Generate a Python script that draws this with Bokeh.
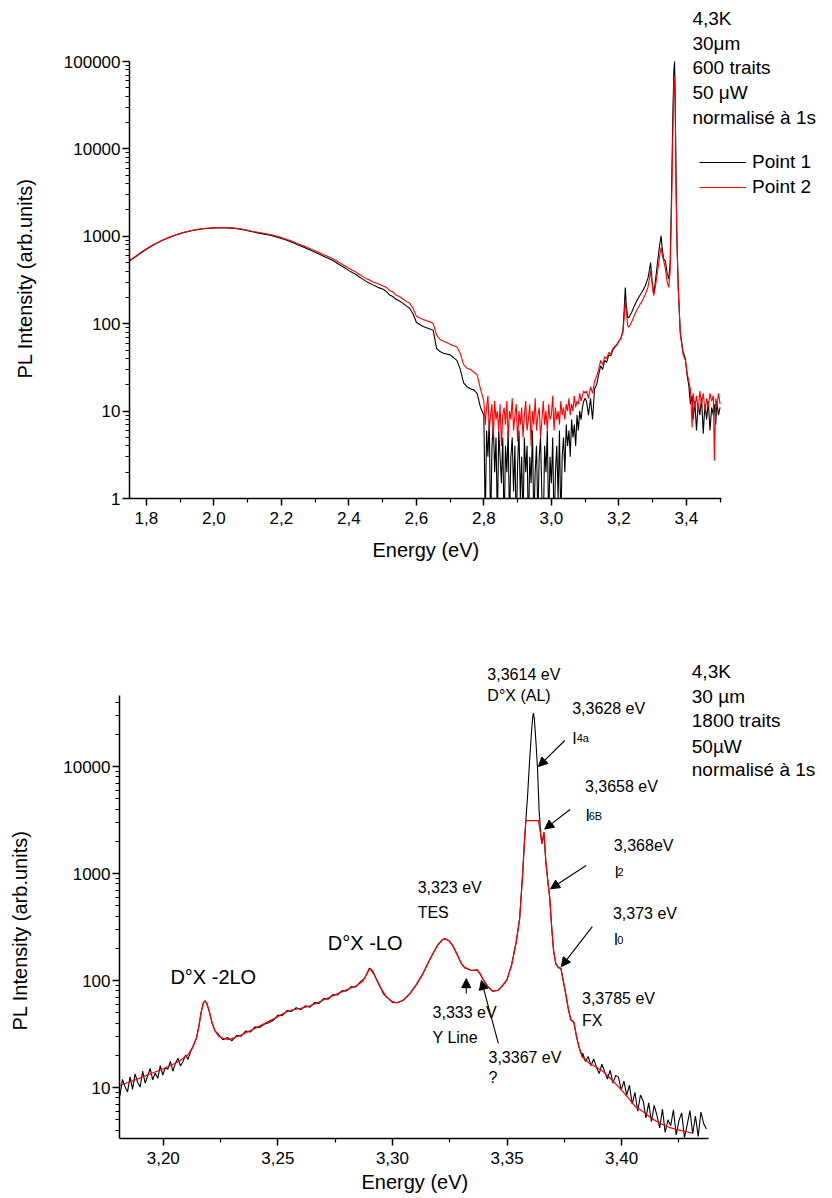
import numpy as np
from bokeh.plotting import figure
from bokeh.models import (FixedTicker, CustomJSTickFormatter, Label, Legend, LegendItem,
                          Arrow, NormalHead, Range1d, Title)
from bokeh.embed import file_html
from bokeh.resources import INLINE

FONT = "Liberation Sans"

# ------------------------------------------------------------------ top chart data
top_energy_smooth = [1.75, 1.77, 1.79, 1.81, 1.83, 1.85, 1.87, 1.89, 1.91, 1.93, 1.95, 1.97, 1.99,
                     2.01, 2.03, 2.05, 2.07, 2.09, 2.11, 2.13, 2.15, 2.17, 2.19, 2.21, 2.23, 2.25,
                     2.27, 2.29, 2.31, 2.33, 2.35, 2.37, 2.39,
                     2.40, 2.41, 2.42, 2.43, 2.44, 2.45, 2.46, 2.47, 2.48, 2.49, 2.50, 2.51, 2.52,
                     2.53, 2.54, 2.55, 2.56, 2.57, 2.58, 2.59, 2.60, 2.61, 2.62, 2.63, 2.64, 2.65,
                     2.66, 2.67, 2.68, 2.69, 2.70, 2.71, 2.72, 2.73, 2.74, 2.75, 2.76, 2.77, 2.78, 2.79]
point2_smooth = [530, 600, 680, 760, 840, 915, 985, 1050, 1110, 1160, 1200, 1228, 1248, 1260, 1262,
                 1252, 1232, 1195, 1150, 1112, 1078, 1040, 992, 940, 882, 818, 762, 705, 655, 605,
                 562, 505, 455,
                 430, 410, 392, 368, 350, 330, 318, 302, 292, 283, 272, 262, 240, 232, 212, 205,
                 192, 180, 172, 150, 122, 116, 112, 108, 105, 100, 74, 66, 63, 61, 58, 56, 54, 46,
                 34, 31, 30, 28, 26, 18]
point1_smooth = [520, 590, 670, 750, 830, 905, 975, 1040, 1100, 1150, 1190, 1218, 1238, 1250, 1252,
                 1240, 1220, 1180, 1135, 1095, 1060, 1022, 972, 918, 860, 795, 738, 682, 630, 580,
                 535, 480, 432,
                 405, 385, 368, 345, 326, 307, 293, 280, 268, 257, 249, 236, 215, 205, 190, 182,
                 172, 160, 150, 130, 104, 98, 93, 90, 87, 84, 52, 48, 46, 45, 44, 41, 38, 30, 21,
                 19, 18, 17.5, 16, 11]

# noisy minimum, 2.80 - 3.10 eV
point2_noise = [13, 7, 11, 15, 6, 9, 12, 5, 13, 8, 10, 6, 12, 4, 9, 11, 7, 13, 5, 10, 8, 14, 6, 9,
                12, 4.5, 10, 7, 11, 5, 9, 13, 6, 8, 12, 4, 10, 7, 14, 6, 9, 11, 5, 8, 13, 7, 10, 6,
                12, 8, 9, 15, 6, 11, 8, 10, 7, 13, 9, 11, 8, 12, 10, 14, 9, 12, 10, 15, 11, 13, 12,
                16, 13, 15, 17, 16]
point1_noise = [9, 0.5, 6, 3, 8, 0.4, 4, 7, 2, 5, 0.5, 6, 3, 1.5, 5, 0.4, 4, 2, 6, 0.5, 3, 5, 1.2,
                4, 0.4, 2.5, 6, 1, 3, 0.5, 5, 2, 4, 0.4, 3, 1.5, 6, 0.5, 2, 4, 0.6, 3, 5, 1, 0.4, 4,
                2, 6, 0.5, 3, 1.5, 5, 0.4, 2, 4, 1, 6, 0.5, 3, 5, 2, 7, 4, 6, 3, 8, 5, 7, 4, 9, 6,
                10, 8, 11, 13, 14]

top_energy_tail = [3.104, 3.110, 3.116, 3.122, 3.128, 3.134, 3.140, 3.146, 3.152, 3.158, 3.164,
                   3.170, 3.176, 3.182, 3.188, 3.194, 3.200, 3.206, 3.212, 3.216, 3.219, 3.222,
                   3.226, 3.230, 3.238, 3.246, 3.254, 3.262, 3.270, 3.278, 3.286, 3.291, 3.294,
                   3.298, 3.303, 3.308, 3.314, 3.320, 3.325, 3.329, 3.333, 3.338, 3.343, 3.348,
                   3.352, 3.356, 3.360, 3.363, 3.365, 3.367, 3.369, 3.372, 3.376, 3.382, 3.390,
                   3.397, 3.402, 3.407, 3.412, 3.417, 3.420, 3.425, 3.430, 3.435, 3.440, 3.445,
                   3.450, 3.455, 3.460, 3.465, 3.470, 3.475, 3.480, 3.483, 3.487, 3.490, 3.495, 3.500]
point2_tail = [17, 14, 19, 16, 22, 25, 30, 38, 34, 42,
               40, 47, 45, 52, 55, 58, 63, 68, 80, 120,
               183, 140, 95, 91, 105, 125, 145, 165, 185, 215,
               260, 330, 403, 300, 210, 260, 380, 560, 745, 600,
               520, 420, 300, 260, 400, 2000, 15000, 55000, 68000, 30000,
               5000, 888, 250, 77, 45, 38, 28, 22, 18, 6.5,
               16, 11, 15, 10, 17, 12, 16, 10, 14, 11,
               16, 13, 15, 2.7, 14, 11, 16, 12]
point1_tail = [13, 9, 14, 8, 18, 20, 26, 33, 30, 38,
               36, 44, 43, 50, 54, 57, 63, 68, 82, 150,
               260, 160, 118, 118, 135, 160, 185, 210, 235, 270,
               330, 420, 502, 320, 218, 300, 480, 750, 1013, 700,
               549, 520, 380, 324, 500, 3000, 25000, 80000, 100000, 40000,
               6000, 900, 260, 80, 48, 40, 26, 20, 12, 15,
               8, 13, 6, 12, 9, 14, 5.5, 12, 8, 13,
               6, 11, 9, 12, 7, 13, 9, 11]

top_x_ticks = [1.8, 2.0, 2.2, 2.4, 2.6, 2.8, 3.0, 3.2, 3.4]
top_x_minor = [1.9, 2.1, 2.3, 2.5, 2.7, 2.9, 3.1, 3.3, 3.5]
top_y_ticks = [1, 10, 100, 1000, 10000, 100000]
top_info = ["4,3K", "30μm", "600 traits", "50 μW", "normalisé à 1s"]
legend_labels = ["Point 1", "Point 2"]

# ------------------------------------------------------------------ bottom chart data
bottom_energy = [3.1800, 3.1850, 3.1900, 3.1950, 3.2000, 3.2050, 3.2080, 3.2110, 3.2130, 3.2145,
                 3.2155, 3.2165, 3.2175, 3.2182, 3.2190, 3.2200, 3.2212, 3.2225, 3.2240, 3.2260,
                 3.2285, 3.2310, 3.2340, 3.2380, 3.2420, 3.2460, 3.2500, 3.2530, 3.2560, 3.2600,
                 3.2640, 3.2680, 3.2720, 3.2760, 3.2800, 3.2840, 3.2870, 3.2885, 3.2897, 3.2905,
                 3.2915, 3.2930, 3.2950, 3.2975, 3.3000, 3.3020, 3.3045, 3.3075, 3.3105, 3.3133,
                 3.3155, 3.3176, 3.3200, 3.3220, 3.3230, 3.3245, 3.3263, 3.3285, 3.3300, 3.3315,
                 3.3330, 3.3345, 3.3358, 3.3370, 3.3382, 3.3395, 3.3415, 3.3437, 3.3460, 3.3480,
                 3.3500, 3.3520, 3.3540, 3.3555, 3.3568, 3.3576, 3.3582, 3.3637, 3.3646, 3.3652,
                 3.3657, 3.3661, 3.3669, 3.3678, 3.3686, 3.3694, 3.3703, 3.3713, 3.3724, 3.3735,
                 3.3745, 3.3756, 3.3767, 3.3778, 3.3792, 3.3803, 3.3814, 3.3829, 3.3860, 3.3890,
                 3.3916, 3.3950, 3.3988, 3.4025, 3.4061, 3.4100, 3.4133, 3.4170, 3.4206, 3.4250,
                 3.4293, 3.4306]
bottom_red = [10.3, 11.2, 12.3, 13.6, 15.0, 16.8, 18.3, 20.5, 24.0, 29.0,
              37.0, 50.0, 62.0, 64.5, 61.0, 52.0, 41.0, 34.0, 30.5, 28.8,
              28.0, 29.2, 31.0, 34.0, 37.5, 41.5, 46.0, 50.0, 53.0, 55.0,
              58.0, 63.0, 69.0, 75.0, 82.0, 89.0, 98.0, 112.0, 125.0, 129.0,
              122.0, 102.0, 84.0, 70.0, 63.5, 62.0, 65.0, 75.0, 92.0, 116.0,
              145.0, 178.0, 218.0, 242.0, 245.0, 237.0, 212.0, 170.0, 145.0, 132.0,
              128.0, 124.0, 125.0, 126.0, 116.0, 103.0, 88.0, 79.5, 81.0, 89.0,
              102.0, 140.0, 230.0, 380.0, 990.0, 2000.0, 3126.0, 3126.0, 2400.0, 1900.0,
              2150.0, 2430.0, 1300.0, 850.0, 600.0, 330.0, 190.0, 143.0, 132.0, 130.0,
              100.0, 75.0, 55.0, 43.0, 40.5, 30.0, 23.8, 19.2, 16.8, 15.5,
              14.3, 12.2, 10.1, 8.2, 6.6, 5.8, 5.1, 4.6, 4.25, 4.0,
              3.82, 3.75]

black_left = [10.8, 8.4, 11.9, 10.2, 9.1, 12.6, 9.6, 13.4, 11.2, 10.1, 14.2, 11.0, 12.9, 15.1,
              11.8, 13.7, 12.2, 16.0, 13.1, 15.4, 14.8, 17.6, 14.2, 16.9, 18.8, 15.9, 17.4, 20.1,
              18.3, 21.6, 24.5]                          # 3.180 - 3.213 eV
black_mid = [31.5, 28.0, 29.3, 27.4, 30.6, 30.2, 33.8, 33.0, 36.9, 36.4, 39.0, 40.3, 42.5, 47.4,
             47.2, 52.4, 51.5, 55.6, 53.6, 58.0, 56.4, 62.1, 61.2, 67.8, 67.0, 74.0, 73.2, 80.3,
             80.0, 87.5, 87.0, 97.0, 106, 131, 114, 94, 75.5, 68.5, 62.5]   # 3.224 - 3.300 eV
black_peak_energy = [3.3582, 3.3590, 3.3598, 3.3606, 3.3612, 3.3615, 3.3619, 3.3626, 3.3633,
                     3.3640, 3.3643]
black_peak = [3126, 5500, 11000, 20000, 29000, 31500, 28000, 17000, 9500, 3800, 3126]
black_tail = [21, 17.5, 19.5, 16, 18.5, 15.5, 13.5, 16.5, 14, 12, 14.5, 11, 13, 12.5, 9.5, 11.5,
              8.5, 10.5, 7, 9, 6, 8.5, 7.5, 5.2, 7.2, 4.8, 6.8, 5.5, 4.2, 6.3, 3.8, 5.0, 4.4, 6.2,
              3.6, 4.9, 5.8, 3.4, 4.5, 6.1, 3.7, 5.4, 3.5, 5.9, 4.6, 4.1]   # 3.383 - 3.437 eV

bottom_x_ticks = [3.20, 3.25, 3.30, 3.35, 3.40]
bottom_x_minor = [3.225, 3.275, 3.325, 3.375, 3.425]
bottom_y_ticks = [10, 100, 1000, 10000]
bottom_info = ["4,3K", "30 µm", "1800 traits", "50µW", "normalisé à 1s"]

# ------------------------------------------------------------------ assemble series
p1_x = top_energy_smooth + list(np.linspace(2.80, 3.10, len(point1_noise))) + top_energy_tail
p1_y = point1_smooth + point1_noise + point1_tail
p2_x = top_energy_smooth + list(np.linspace(2.80, 3.10, len(point2_noise))) + top_energy_tail
p2_y = point2_smooth + point2_noise + point2_tail

be = np.array(bottom_energy)
br = np.array(bottom_red)


def red_between(a, b):
    m = (be > a) & (be < b)
    return list(be[m]), list(br[m])


s1x, s1y = red_between(3.2131, 3.2239)
s2x, s2y = red_between(3.3001, 3.3581)
s3x, s3y = red_between(3.3644, 3.3830)
black_x = (list(np.linspace(3.180, 3.213, len(black_left))) + s1x +
           list(np.linspace(3.224, 3.300, len(black_mid))) + s2x + black_peak_energy + s3x +
           list(np.linspace(3.383, 3.437, len(black_tail))))
black_y = black_left + s1y + black_mid + s2y + black_peak + s3y + black_tail


def minor_log(lo_dec, hi_dec):
    out = []
    for d in [10 ** k for k in range(lo_dec, hi_dec)]:
        out += [m * d for m in range(2, 10)]
    return out


def style(p, xt, xm, yt, ym, xdig, xbounds, ybounds, spacer_size):
    p.xgrid.visible = False
    p.ygrid.visible = False
    p.outline_line_color = None
    xa, ya = p.xaxis[0], p.yaxis[0]
    xa.bounds = xbounds
    ya.bounds = ybounds
    xa.ticker = FixedTicker(ticks=xt, minor_ticks=xm)
    ya.ticker = FixedTicker(ticks=yt, minor_ticks=ym)
    xa.formatter = CustomJSTickFormatter(code="return tick.toFixed(%d).replace('.', ',');" % xdig)
    ya.formatter = CustomJSTickFormatter(code="return tick.toFixed(0);")
    for ax in (xa, ya):
        ax.axis_line_width = 1.5
        ax.axis_line_color = "black"
        ax.major_tick_line_width = 1.5
        ax.major_tick_line_color = "black"
        ax.minor_tick_line_width = 1.2
        ax.minor_tick_line_color = "black"
        ax.major_tick_in = 0
        ax.major_tick_out = 7
        ax.minor_tick_in = 0
        ax.minor_tick_out = 4
        ax.major_label_text_font = FONT
        ax.major_label_text_font_size = "17px"
        ax.major_label_text_color = "black"
    ya.major_label_standoff = 2
    xa.major_label_standoff = 6
    # spacer so that the y title sits further out
    ya.axis_label = " "
    ya.axis_label_text_font_size = spacer_size
    ya.axis_label_standoff = 0


def axis_titles(p, xoff, xstand, yoff, ystand):
    p.add_layout(Title(text="Energy (eV)", align="left", offset=xoff, standoff=xstand,
                       text_font=FONT, text_font_size="20px", text_font_style="normal",
                       text_color="black"), "below")
    p.add_layout(Title(text="PL Intensity (arb.units)", align="left", offset=yoff,
                       standoff=ystand, text_font=FONT, text_font_size="20px",
                       text_font_style="normal", text_color="black"), "left")


def lab(p, x, y, text, size, baseline="middle"):
    p.add_layout(Label(x=x, y=y, text=text, text_font=FONT, text_font_size=size,
                       text_color="black", text_align="left", text_baseline=baseline))


def arrow(p, xs, ys, xe, ye):
    p.add_layout(Arrow(end=NormalHead(size=9, fill_color="black", line_color="black"),
                       x_start=xs, y_start=ys, x_end=xe, y_end=ye,
                       line_color="black", line_width=1.1))

# ------------------------------------------------------------------ top figure
p1 = figure(width=832, height=598, x_range=Range1d(1.75, 3.833), y_range=Range1d(1, 499000),
            y_axis_type="log", output_backend="svg", toolbar_location=None,
            min_border_left=129, min_border_right=0, min_border_top=0, min_border_bottom=100)
style(p1, top_x_ticks, top_x_minor, top_y_ticks, minor_log(0, 5), 1, (1.75, 3.504), (1, 100000),
      "13px")
axis_titles(p1, 243, 20, 120, 13)
r1 = p1.line(p1_x, p1_y, line_color="black", line_width=1.1)
r2 = p1.line(p2_x, p2_y, line_color="#ff0000", line_width=1.1)
legend = Legend(items=[LegendItem(label=legend_labels[0], renderers=[r1]),
                       LegendItem(label=legend_labels[1], renderers=[r2])],
                location=(570, 300), orientation="vertical", padding=0, margin=0,
                spacing=3, glyph_width=47, glyph_height=22, label_height=22, label_standoff=6,
                label_text_font=FONT, label_text_font_size="19px", label_text_color="black",
                border_line_color=None, background_fill_alpha=0)
p1.add_layout(legend)
for txt, yv in zip(top_info, [314000, 162600, 84300, 43650, 22600]):
    lab(p1, 3.418, yv, txt, "19px")

# ------------------------------------------------------------------ bottom figure
p2 = figure(width=832, height=598, x_range=Range1d(3.1809, 3.4920), y_range=Range1d(3.34, 371500),
            y_axis_type="log", output_backend="svg", toolbar_location=None,
            min_border_left=119, min_border_right=0, min_border_top=0, min_border_bottom=58)
style(p2, bottom_x_ticks, bottom_x_minor, bottom_y_ticks,
      [4, 5, 6, 7, 8, 9] + minor_log(1, 4) + [20000, 30000, 40000], 2,
      (3.1809, 3.438), (3.34, 46100), "20px")
axis_titles(p2, 242, 4, 108, 10)
p2.line(black_x, black_y, line_color="black", line_width=1.1)
p2.line(bottom_energy, bottom_red, line_color="#ff0000", line_width=1.2)

for txt, yv in zip(bottom_info, [77300, 45100, 26900, 15400, 9380]):
    lab(p2, 3.4306, yv, txt, "19px")

lab(p2, 3.3414, 72400, "3,3614 eV", "16px")
lab(p2, 3.3414, 46100, "D°X (AL)", "16px")
lab(p2, 3.3784, 34800, "3,3628 eV", "16px")
lab(p2, 3.3784, 18280, "I", "16px", "alphabetic")
lab(p2, 3.3804, 18280, "4a", "11px", "alphabetic")
lab(p2, 3.3840, 6500, "3,3658 eV", "16px")
lab(p2, 3.3842, 3483, "I", "16px", "alphabetic")
lab(p2, 3.3856, 3483, "6B", "11px", "alphabetic")
lab(p2, 3.3966, 1828, "3,368eV", "16px")
lab(p2, 3.3969, 1028, "I", "16px", "alphabetic")
lab(p2, 3.3982, 1028, "2", "11px", "alphabetic")
lab(p2, 3.3962, 423, "3,373 eV", "16px")
lab(p2, 3.3966, 240, "I", "16px", "alphabetic")
lab(p2, 3.3981, 240, "0", "11px", "alphabetic")
lab(p2, 3.3827, 67.9, "3,3785 eV", "16px")
lab(p2, 3.3827, 42.3, "FX", "16px")
lab(p2, 3.3110, 740, "3,323 eV", "16px")
lab(p2, 3.3110, 432, "TES", "16px")
lab(p2, 3.3175, 50.2, "3,333 eV", "16px")
lab(p2, 3.3175, 29.3, "Y Line", "16px")
lab(p2, 3.3419, 19.1, "3,3367 eV", "16px")
lab(p2, 3.3419, 12.4, "?", "16px")
lab(p2, 3.2718, 226, "D°X -LO", "20px")
lab(p2, 3.2031, 107, "D°X -2LO", "20px")

arrow(p2, 3.3752, 17500, 3.3637, 10000)
arrow(p2, 3.3775, 3960, 3.3664, 2600)
arrow(p2, 3.3845, 1190, 3.3690, 720)
arrow(p2, 3.3872, 319, 3.3737, 135)
arrow(p2, 3.3322, 75.7, 3.3322, 104)
arrow(p2, 3.3462, 25.9, 3.3388, 100)

open("out.html", "w").write(file_html([p1, p2], INLINE))
